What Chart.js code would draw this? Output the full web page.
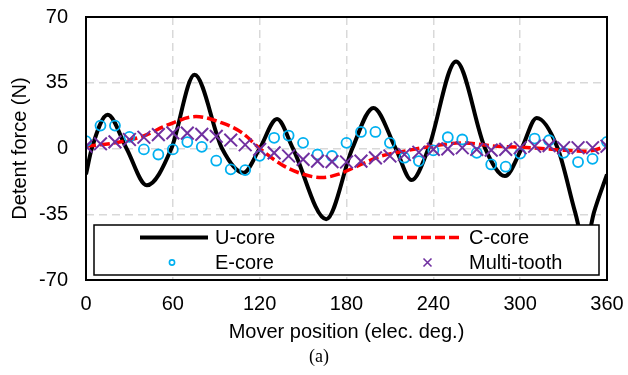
<!DOCTYPE html>
<html>
<head>
<meta charset="utf-8">
<script src="https://cdn.jsdelivr.net/npm/chart.js@4/dist/chart.umd.min.js"></script>
<style>
  html, body { margin: 0; padding: 0; background: #fff; }
  #wrap { width: 628px; height: 375px; }
</style>
</head>
<body>
<div id="wrap"><canvas id="myChart"></canvas></div>
<script>
// U-core detent force (smooth curve, read at extrema / zero crossings)
var uAngles = [0, 4, 15, 28, 42, 59, 75, 94, 108.7, 120, 132, 143, 166, 184, 198.6, 214, 225, 236.6, 255.7, 275.8, 289.5, 301, 311.4, 326, 338, 345, 351, 360];
var uForce  = [-13.8, 0, 18, 0, -19.6, 0, 39.2, 0, -12.9, 0, 15.7, 0, -37.6, 0, 21.6, 0, -16.8, 0, 46.3, 0, -14.7, 0, 16.3, 0, -34, -52, -34, -13.8];

// C-core detent force
var cAngles = [0, 20, 39, 57, 76, 94, 108, 120, 135, 147, 163, 174, 190, 204, 220, 239, 260, 284, 307, 330, 346, 360];
var cForce  = [1.2, 3, 6.5, 12.7, 17, 13.6, 8.3, 0, -8.5, -12.9, -15.5, -13.8, -8.5, -4, -1.4, 1.2, 3, 1.2, 0.4, -0.9, -1.4, 1.2];

// marker series, every 10 elec. deg.
var markAngles = [0, 10, 20, 30, 40, 50, 60, 70, 80, 90, 100, 110, 120, 130, 140, 150, 160, 170, 180,
                  190, 200, 210, 220, 230, 240, 250, 260, 270, 280, 290, 300, 310, 320, 330, 340, 350, 360];
var eForce = [3.9, 12.2, 12.2, 6.2, -0.5, -3.2, -0.5, 3.4, 0.9, -6.5, -11.1, -11.5, -3.9, 5.7, 6.9, 3, -3.2, -4, 3,
              8.8, 8.8, 3, -4.9, -6.7, -1, 6, 4.8, -2.3, -8.5, -9.7, -2.7, 5.3, 4.4, -2.3, -7.2, -5.5, 3.5];
var mForce = [1.2, 2.5, 3.5, 4.8, 6, 7.4, 8.3, 8.2, 7.5, 6.5, 4.5, 2, -0.5, -2.3, -4, -5.8, -6.7, -7, -7.2,
              -6.7, -5, -4, -3.2, -2, -0.5, -0.2, 0.4, -0.5, -0.9, -0.5, 0.4, 1.2, 1.5, 0.4, 0.4, 0.4, 1.2];

var xTicks = [0, 60, 120, 180, 240, 300, 360];
var yTicks = [-70, -35, 0, 35, 70];
var seriesNames = ['U-core', 'C-core', 'E-core', 'Multi-tooth'];

var FONT = '"Liberation Sans", Arial, sans-serif';

function pts(xs, ys) {
  return xs.map(function (x, i) { return { x: x, y: ys[i] }; });
}

// frame, in-plot legend and "(a)" caption
var extras = {
  id: 'extras',
  afterDraw: function (chart) {
    var ctx = chart.ctx, a = chart.chartArea;
    ctx.save();
    ctx.strokeStyle = '#000';
    ctx.lineWidth = 2;
    ctx.strokeRect(a.left, a.top, a.right - a.left, a.bottom - a.top);

    // legend box
    ctx.fillStyle = '#fff';
    ctx.fillRect(94, 225, 505, 50);
    ctx.lineWidth = 1.5;
    ctx.strokeRect(94, 225, 505, 50);

    // samples
    ctx.lineWidth = 4;
    ctx.strokeStyle = '#000';
    ctx.beginPath(); ctx.moveTo(140, 237.5); ctx.lineTo(208, 237.5); ctx.stroke();
    ctx.strokeStyle = '#ff0000';
    ctx.lineWidth = 3.5;
    ctx.setLineDash([10, 4]);
    ctx.beginPath(); ctx.moveTo(393, 237.5); ctx.lineTo(460, 237.5); ctx.stroke();
    ctx.setLineDash([]);
    ctx.strokeStyle = '#00b0f0';
    ctx.lineWidth = 1.6;
    ctx.beginPath(); ctx.arc(172, 262.5, 2.6, 0, Math.PI * 2); ctx.stroke();
    ctx.strokeStyle = '#7030a0';
    ctx.lineWidth = 1.6;
    ctx.beginPath();
    ctx.moveTo(423.5, 258.5); ctx.lineTo(431.5, 266.5);
    ctx.moveTo(431.5, 258.5); ctx.lineTo(423.5, 266.5);
    ctx.stroke();

    ctx.fillStyle = '#000';
    ctx.font = '20px ' + FONT;
    ctx.textBaseline = 'middle';
    ctx.textAlign = 'left';
    ctx.fillText(seriesNames[0], 215, 238);
    ctx.fillText(seriesNames[2], 215, 263);
    ctx.fillText(seriesNames[1], 469, 238);
    ctx.fillText(seriesNames[3], 469, 263);

    ctx.font = '18px "Liberation Serif", "Times New Roman", serif';
    ctx.textAlign = 'center';
    ctx.fillText('(a)', 319, 357);
    ctx.restore();
  }
};

var config = {
  type: 'scatter',
  data: {
    datasets: [{
      label: seriesNames[0],
      data: pts(uAngles, uForce),
      showLine: true,
      borderColor: '#000',
      borderWidth: 4,
      pointRadius: 0,
      cubicInterpolationMode: 'monotone',
      order: 4
    }, {
      label: seriesNames[1],
      data: pts(cAngles, cForce),
      showLine: true,
      borderColor: '#ff0000',
      borderWidth: 3.5,
      borderDash: [10, 4],
      pointRadius: 0,
      cubicInterpolationMode: 'monotone',
      order: 3
    }, {
      label: seriesNames[2],
      data: pts(markAngles, eForce),
      showLine: false,
      pointStyle: 'circle',
      pointRadius: 5,
      borderColor: '#00b0f0',
      backgroundColor: 'rgba(0,0,0,0)',
      borderWidth: 1.8,
      order: 2
    }, {
      label: seriesNames[3],
      data: pts(markAngles, mForce),
      showLine: false,
      pointStyle: 'crossRot',
      pointRadius: 9,
      borderColor: '#7030a0',
      borderWidth: 2,
      order: 1
    }]
  },
  options: {
    responsive: true,
    maintainAspectRatio: false,
    animation: false,
    layout: { padding: { top: 17, right: 21, left: 0, bottom: 0 } },
    plugins: {
      legend: { display: false },
      tooltip: { enabled: false }
    },
    scales: {
      x: {
        type: 'linear',
        min: 0,
        max: 360,
        afterFit: function (s) { s.height = 95; s.paddingLeft = 0; s.paddingRight = 0; },
        afterBuildTicks: function (s) { s.ticks = xTicks.map(function (v) { return { value: v }; }); },
        grid: { color: '#d9d9d9', lineWidth: 1.5, drawTicks: false },
        border: { display: false, dash: [8, 5] },
        ticks: { color: '#000', padding: 12, maxRotation: 0, font: { family: FONT, size: 20 } },
        title: {
          display: true,
          text: 'Mover position (elec. deg.)',
          color: '#000',
          padding: { top: 0, bottom: 31 },
          font: { family: FONT, size: 20 }
        }
      },
      y: {
        min: -70,
        max: 70,
        afterFit: function (s) { s.width = 86; s.paddingTop = 0; s.paddingBottom = 0; },
        afterBuildTicks: function (s) { s.ticks = yTicks.map(function (v) { return { value: v }; }); },
        grid: { color: '#d9d9d9', lineWidth: 1.5, drawTicks: false },
        border: { display: false, dash: [8, 5] },
        ticks: { color: '#000', padding: 18, font: { family: FONT, size: 20 } },
        title: {
          display: true,
          text: 'Detent force (N)',
          color: '#000',
          padding: { top: 8, bottom: 0 },
          font: { family: FONT, size: 20 }
        }
      }
    }
  },
  plugins: [extras]
};

var ctx = document.getElementById('myChart').getContext('2d');
var grafica = new Chart(ctx, config);
</script>
</body>
</html>
